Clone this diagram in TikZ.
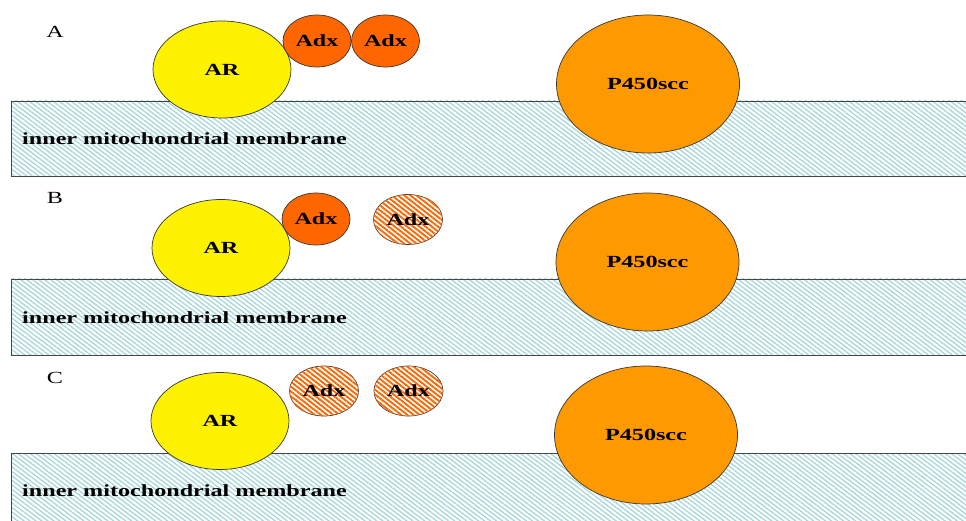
\documentclass[tikz,border=0pt]{standalone}
\usepackage{fontspec}
\setmainfont{Liberation Serif}
\usetikzlibrary{shapes.geometric,patterns.meta}

\definecolor{hatchblue}{RGB}{165,214,220}
\definecolor{adxorange}{RGB}{255,102,0}
\definecolor{p450orange}{RGB}{255,153,0}
\definecolor{edgegray}{RGB}{55,55,55}
\definecolor{membraneline}{RGB}{70,70,70}

% the figure's lettering is stretched sideways
\newcommand{\wide}[1]{\scalebox{1.42}[1]{#1}}

\begin{document}
\begin{tikzpicture}[x=1pt,y=-1pt,
  protein/.style={ellipse, draw=edgegray, line width=0.7pt, inner sep=0pt,
    font=\fontsize{17}{19}\selectfont\bfseries},
  arprot/.style={protein, fill=yellow, minimum width=138pt, minimum height=97pt},
  adxred/.style={protein, fill=adxorange, minimum width=68pt, minimum height=52pt},
  adxox/.style={protein, fill=white,
    postaction={pattern={Lines[angle=-38,distance=3.8pt,line width=1.9pt]}, pattern color=adxorange},
    minimum width=69pt, minimum height=50pt},
  p450/.style={protein, fill=p450orange, minimum width=183pt, minimum height=138pt},
  hatch/.style={pattern={Lines[angle=-37,distance=3.6pt,line width=1.3pt]}, pattern color=hatchblue},
  rim/.style={draw=membraneline, line width=0.9pt},
  memlabel/.style={anchor=west, inner sep=0pt, font=\fontsize{17}{19}\selectfont\bfseries},
  panel/.style={inner sep=0pt, font=\fontsize{17}{19}\selectfont}
]
\useasboundingbox (0,0) rectangle (966,521);

% ---------- membranes ----------
\fill[hatch] (11,101) rectangle (966,176);
\draw[rim] (966,101) -- (11,101) -- (11,176) -- (966,176);
\fill[hatch] (11,279) rectangle (966,355);
\draw[rim] (966,279) -- (11,279) -- (11,355) -- (966,355);
\fill[hatch] (11,453) rectangle (966,521);
\draw[rim] (966,453) -- (11,453) -- (11,521);

% ---------- panel A ----------
\node[panel] (labA) at (55,32) {\wide{A}};
\node[memlabel] (memA) at (22,139) {\wide{inner mitochondrial membrane}};
\node[arprot] (arA) at (222,69.5) {\wide{AR}};
\node[adxred] (adxA1) at (317,41) {\wide{Adx}};
\node[adxred] (adxA2) at (385.5,41) {\wide{Adx}};
\node[p450] (pA) at (648,84) {\wide{P450scc}};

% ---------- panel B ----------
\node[panel] (labB) at (55,198) {\wide{B}};
\node[memlabel] (memB) at (22,318) {\wide{inner mitochondrial membrane}};
\node[arprot] (arB) at (221,248) {\wide{AR}};
\node[adxred] (adxB1) at (316,219) {\wide{Adx}};
\node[adxox] (adxB2) at (408,219.5) {\wide{Adx}};
\node[p450] (pB) at (647.5,262) {\wide{P450scc}};

% ---------- panel C ----------
\node[panel] (labC) at (55,378) {\wide{C}};
\node[memlabel] (memC) at (22,491) {\wide{inner mitochondrial membrane}};
\node[arprot] (arC) at (220,421) {\wide{AR}};
\node[adxox] (adxC1) at (324,391) {\wide{Adx}};
\node[adxox] (adxC2) at (408.5,391) {\wide{Adx}};
\node[p450] (pC) at (646,435) {\wide{P450scc}};
\end{tikzpicture}
\end{document}
